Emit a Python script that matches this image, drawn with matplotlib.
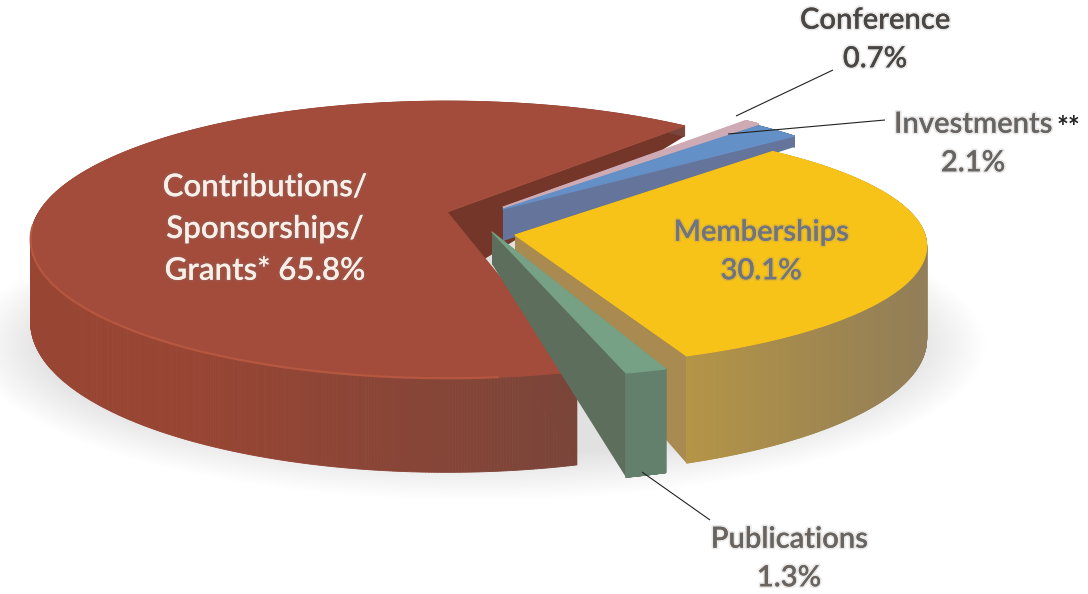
import numpy as np
import matplotlib
matplotlib.use("Agg")
import matplotlib.pyplot as plt
import matplotlib.patheffects as pe
from matplotlib.patches import Ellipse, Polygon
from matplotlib.colors import to_rgb

# Chart data, in drawing angle order starting from the red slice
categories = ["Contributions", "Publications", "Memberships", "Investments", "Conference"]
values = [65.8, 1.3, 30.1, 2.1, 0.7]

plt.rcParams["font.family"] = ["Lato", "DejaVu Sans"]

start_angle = 48.0
apex = {"Contributions": (447, 212), "Publications": (492, 232), "Memberships": (515, 235),
        "Investments": (503, 209), "Conference": (503, 207)}
persp = {"Contributions": 0.20, "Publications": 0.17, "Memberships": 0.09,
         "Investments": 0.17, "Conference": 0.17}
radius_x = {"Contributions": 408, "Publications": 436, "Memberships": 410, "Investments": 408, "Conference": 408}
radius_y = {"Contributions": 133, "Publications": 122, "Memberships": 120, "Investments": 131, "Conference": 131}
rotate = {"Contributions": (0, 0), "Publications": (0, 0), "Memberships": (3, 10),
          "Investments": (0, 0), "Conference": (0, 0)}
wall_scale = {"Contributions": 0.97, "Publications": 1.08, "Memberships": 1.12, "Investments": 1, "Conference": 1}
centre_height = {"Contributions": 70, "Publications": 32, "Memberships": 32, "Investments": 32, "Conference": 32}
top_col = {"Contributions": "#a34c3c", "Publications": "#76a184", "Memberships": "#f8c318",
           "Investments": "#6390c6", "Conference": "#cdaab4"}
face_col = {"Contributions": "#743628", "Publications": "#5d6e5c", "Memberships": "#a98a50",
            "Investments": "#65749a", "Conference": "#cdaab4"}
wall_left = {"Contributions": "#984533", "Publications": "#63806c", "Memberships": "#b49446",
             "Investments": "#65749a", "Conference": "#cdaab4"}
wall_right = {"Contributions": "#7a453a", "Publications": "#63806c", "Memberships": "#927e58",
              "Investments": "#65749a", "Conference": "#cdaab4"}
shade_range = {"Contributions": (200, 580), "Publications": (600, 700), "Memberships": (690, 920),
               "Investments": (500, 800), "Conference": (500, 800)}


def project(name, u, v):
    # unit disk -> screen pixels, nearer points get scaled up
    s = 1.0 / (1.0 - persp[name] * v)
    x0, y0 = apex[name]
    return x0 + radius_x[name] * u * s, y0 + radius_y[name] * v * s


def height(u, v):
    # side wall height shrinks toward the back rim
    rim = np.interp(v, [-1, -0.55, 0, 1], [10, 11, 82, 97])
    return rim


fig = plt.figure(figsize=(10.88, 5.94), dpi=100)
ax = fig.add_axes([0, 0, 1, 1])
ax.set_xlim(0, 1088)
ax.set_ylim(594, 0)
ax.axis("off")

# soft floor shadow
for k in np.linspace(0, 1, 30):
    ax.add_patch(Ellipse((478, 345), 1015 - 150 * k, 310 - 90 * k, fc="#8c8c8c", ec="none", alpha=0.008))


def draw_slice(name, a0, a1):
    a0, a1 = a0 + rotate[name][0], a1 + rotate[name][1]
    t = np.radians(np.linspace(a0, a1, 700))
    u, v = np.cos(t), -np.sin(t)
    px, py = project(name, u, v)
    ax_, ay_ = apex[name]
    h = height(u, v) * wall_scale[name]
    h0 = centre_height[name]

    # cut faces first, they sit behind the top
    ax.add_patch(Polygon([(ax_, ay_), (px[0], py[0]), (px[0], py[0] + h[0]), (ax_, ay_ + h0)],
                         fc=face_col[name], ec="none"))
    ax.add_patch(Polygon([(ax_, ay_), (px[-1], py[-1]), (px[-1], py[-1] + h[-1]), (ax_, ay_ + min(h0, 32))],
                         fc=face_col[name], ec="none"))

    # outer wall, shaded strip by strip
    c0, c1 = np.array(to_rgb(wall_left[name])), np.array(to_rgb(wall_right[name]))
    lo, hi = shade_range[name]
    for i in range(len(t) - 1):
        f = np.clip((px[i] - lo) / (hi - lo), 0, 1)
        col = c0 * (1 - f) + c1 * f
        ax.add_patch(Polygon([(px[i], py[i]), (px[i + 1], py[i + 1]),
                              (px[i + 1], py[i + 1] + h[i + 1]), (px[i], py[i] + h[i])],
                             fc=col, ec=col, lw=0.6))

    # top surface
    pts = np.column_stack([np.r_[ax_, px], np.r_[ay_, py]])
    ax.add_patch(Polygon(pts, fc=top_col[name], ec=top_col[name], lw=0.8, joinstyle="round"))

    # bevel highlight along the front rim of the big slice
    if name == "Contributions":
        front = (v > 0.1) & (u < 0.1)
        ax.plot(px[front], py[front], color="#bc5a42", lw=1.6, alpha=0.8, solid_capstyle="round")


angles = start_angle + np.r_[0, np.cumsum(values)] / np.sum(values) * 360
spans = {n: (angles[i], angles[i + 1]) for i, n in enumerate(categories)}
for name in ["Contributions", "Conference", "Investments", "Memberships", "Publications"]:
    draw_slice(name, *spans[name])

# leader lines
for (x0, y0), (x1, y1) in [((736, 116), (833, 70)), ((728, 134), (885, 120)), ((642, 472), (710, 520))]:
    ax.plot([x0, x1], [y0, y1], color="#222222", lw=0.8, solid_capstyle="butt")


def label(x, y, s, color, size=21):
    ax.text(x, y, s, color=color, fontsize=size, fontweight="semibold", ha="center", va="center",
            linespacing=1.6, path_effects=[pe.withStroke(linewidth=2.5, foreground=(0.5, 0.5, 0.5, 0.18))])


label(265, 229, "Contributions/\nSponsorships/\nGrants* 65.8%", "#f8efe8", size=22.5)
label(761, 252, "Memberships\n30.1%", "#6f7484")
label(875, 40, "Conference\n0.7%", "#4a4644")
label(973, 144, "Investments\n2.1%", "#686462")
ax.text(1057, 128, "**", color="#222222", fontsize=20, fontweight="bold", ha="left", va="center")
label(789, 559, "Publications\n1.3%", "#6a6460")

fig.savefig("out.png", dpi=100)
